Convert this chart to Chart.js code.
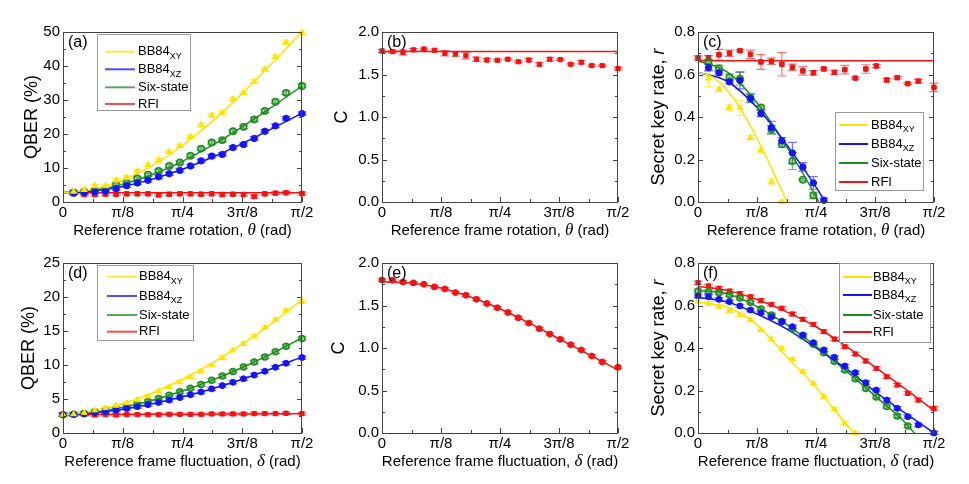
<!DOCTYPE html>
<html>
<head>
<meta charset="utf-8">
<script src="https://cdn.jsdelivr.net/npm/chart.js@4.4.1/dist/chart.umd.min.js"></script>
<style>
  body { margin: 0; background: #fff; width: 969px; height: 484px; position: relative; overflow: hidden; }
  canvas { position: absolute; }
</style>
</head>
<body>
<canvas id="pa" width="320" height="242" style="left:0;top:0"></canvas>
<canvas id="pb" width="318" height="242" style="left:320px;top:0"></canvas>
<canvas id="pc" width="331" height="242" style="left:638px;top:0"></canvas>
<canvas id="pd" width="320" height="242" style="left:0;top:242px"></canvas>
<canvas id="pe" width="318" height="242" style="left:320px;top:242px"></canvas>
<canvas id="pf" width="331" height="242" style="left:638px;top:242px"></canvas>
<script>
/*==================================================================
   Data (angles in degrees, 90 = pi/2)
==================================================================*/
const degAll = [0, 4, 8, 12, 16, 20, 24, 28, 32, 36, 40, 44, 48, 52, 56, 60, 64, 68, 72, 76, 80, 84, 90]
const curveDeg = [0, 11.25, 22.5, 33.75, 45, 56.25, 67.5, 78.75, 90]

const xTickDeg = [0, 22.5, 45, 67.5, 90]
const xTickLabels = ['0', 'π/8', 'π/4', '3π/8', 'π/2']
const qberTicks = [0, 10, 20, 30, 40, 50]
const qberFlucTicks = [0, 5, 10, 15, 20, 25]
const cTicks = [0, 0.5, 1, 1.5, 2]
const cTickLabels = ['0.0', '0.5', '1.0', '1.5', '2.0']
const rateTicks = [0, 0.2, 0.4, 0.6, 0.8]
const rateTickLabels = ['0.0', '0.2', '0.4', '0.6', '0.8']

const legendNames = ['BB84', 'BB84', 'Six-state', 'RFI']
const legendSubs = ['XY', 'XZ', '', '']

// (a) QBER vs rotation, points at 4..90
const qberRotXY = [3.1, 3.6, 4.7, 4.7, 6.4, 7.2, 9.1, 10.9, 12.3, 14.7, 16.5, 19.2, 22.6, 25.5, 26.3, 30.2, 32.1, 35.4, 39.0, 42.7, 46.9, 49.8]
const qberRotXZ = [2.7, 2.8, 3.0, 3.2, 3.9, 4.8, 5.6, 6.4, 7.4, 8.3, 9.3, 10.6, 12.1, 13.5, 14.0, 16.0, 16.9, 18.7, 20.8, 22.4, 24.6, 26.0]
const qberRotSix = [2.8, 3.0, 3.4, 3.6, 5.1, 5.6, 6.9, 8.0, 9.1, 10.6, 11.6, 13.6, 15.7, 17.5, 18.2, 20.8, 22.1, 24.3, 26.8, 29.5, 32.1, 34.1]
const qberRotRFI = [2.4, 2.2, 2.2, 2.3, 2.3, 2.4, 2.4, 2.4, 2.1, 2.3, 2.4, 2.4, 2.3, 2.4, 2.2, 2.3, 2.2, 1.6, 2.4, 2.6, 2.7, 2.5]
const qberRotXYFit = [2.8, 3.71, 6.39, 10.76, 16.62, 23.78, 31.94, 40.8, 50.0]
const qberRotXZFit = [2.8, 3.25, 4.57, 6.73, 9.62, 13.15, 17.19, 21.56, 26.1]
const qberRotSixFit = [2.8, 3.4, 5.18, 8.08, 11.97, 16.71, 22.12, 28.0, 34.1]
const qberRotRFIFit = [2.7, 2.7, 2.7, 2.7, 2.7, 2.7, 2.7, 2.7, 2.7]

// (b) C vs rotation
const cRot = [1.777, 1.77, 1.76, 1.79, 1.80, 1.785, 1.75, 1.74, 1.72, 1.68, 1.67, 1.667, 1.68, 1.65, 1.67, 1.62, 1.68, 1.675, 1.62, 1.645, 1.605, 1.605, 1.57]
const cRotErr = [0.02, 0.015, 0.03, 0.015, 0.01, 0.015, 0.03, 0.025, 0.04, 0.025, 0.02, 0.01, 0.01, 0.01, 0.02, 0.02, 0.02, 0.01, 0.01, 0.02, 0.01, 0.01, 0.015]
const cRotFit = [1.77, 1.77, 1.77, 1.77, 1.77, 1.77, 1.77, 1.77, 1.77]

// (c) key rate vs rotation
const rateRotXY = [0.582, 0.53, 0.445, 0.443, 0.303, 0.244, 0.094, 0.0]
const rateRotXYErr = [0.04, 0.01, 0.015, 0.035, 0.01, 0.01, 0.015, 0.005]
const rateRotXZ = [0.632, 0.608, 0.566, 0.572, 0.487, 0.417, 0.35, 0.288, 0.231, 0.165, 0.09, 0.008]
const rateRotXZErr = [0.015, 0.01, 0.01, 0.04, 0.02, 0.015, 0.03, 0.015, 0.05, 0.02, 0.03, 0.01]
const rateRotSix = [0.66, 0.629, 0.587, 0.58, 0.49, 0.445, 0.341, 0.272, 0.193, 0.105, 0.031]
const rateRotSixErr = [0.01, 0.015, 0.015, 0.03, 0.02, 0.01, 0.02, 0.015, 0.04, 0.005, 0.015]
const rateRotRFI = [0.678, 0.679, 0.693, 0.70, 0.712, 0.695, 0.659, 0.662, 0.648, 0.634, 0.617, 0.608, 0.626, 0.61, 0.623, 0.583, 0.626, 0.64, 0.574, 0.585, 0.557, 0.569, 0.539]
const rateRotRFIErr = [0.01, 0.01, 0.025, 0.015, 0.005, 0.02, 0.035, 0.015, 0.055, 0.015, 0.02, 0.01, 0.005, 0.01, 0.02, 0.005, 0.02, 0.008, 0.008, 0.005, 0.005, 0.008, 0.02]
const rateRotXYFitDeg = [0, 5.625, 11.25, 16.875, 22.5, 28.125, 33.9]
const rateRotXYFit = [0.61, 0.588, 0.525, 0.425, 0.30, 0.157, 0]
const rateRotXZFitDeg = [0, 11.25, 22.5, 33.75, 45, 48.6]
const rateRotXZFit = [0.61, 0.567, 0.445, 0.271, 0.07, 0]
const rateRotSixFitDeg = [0, 11.25, 22.5, 33.75, 45, 46]
const rateRotSixFit = [0.664, 0.611, 0.467, 0.262, 0.025, 0]
const rateRotRFIFit = [0.665, 0.665, 0.665, 0.665, 0.665, 0.665, 0.665, 0.665, 0.665]

// (d) QBER vs fluctuation
const qberFlucXY = [2.7, 2.78, 2.98, 3.34, 3.68, 4.02, 4.41, 4.9, 5.4, 6.13, 6.77, 7.5, 8.24, 9.07, 9.96, 11.08, 12.16, 13.14, 14.22, 15.5, 16.67, 18.04, 19.3]
const qberFlucXZ = [2.7, 2.74, 2.84, 2.98, 3.15, 3.36, 3.6, 3.87, 4.17, 4.49, 4.84, 5.22, 5.62, 6.04, 6.49, 6.97, 7.46, 7.98, 8.52, 9.08, 9.66, 10.26, 11.1]
const qberFlucSix = [2.7, 2.76, 2.88, 3.07, 3.3, 3.58, 3.89, 4.25, 4.65, 5.08, 5.55, 6.05, 6.58, 7.15, 7.74, 8.37, 9.03, 9.72, 10.43, 11.18, 11.95, 12.75, 13.9]
const qberFlucRFI = [2.7, 2.65, 2.7, 2.65, 2.7, 2.65, 2.7, 2.7, 2.7, 2.7, 2.75, 2.75, 2.75, 2.75, 2.8, 2.8, 2.8, 2.8, 2.85, 2.85, 2.85, 2.9, 2.85]
const qberFlucXYFit = [2.7, 3.19, 4.30, 5.89, 7.90, 10.3, 13.07, 16.17, 19.6]
const qberFlucXZFit = [2.7, 2.95, 3.5, 4.3, 5.32, 6.52, 7.91, 9.48, 11.2]
const qberFlucSixFit = [2.7, 3.03, 3.77, 4.83, 6.18, 7.78, 9.63, 11.71, 14.0]
const qberFlucRFIFit = [2.7, 2.7, 2.72, 2.74, 2.76, 2.78, 2.8, 2.82, 2.85]

// (e) C vs fluctuation
const cFluc = [1.80, 1.797, 1.777, 1.766, 1.75, 1.719, 1.695, 1.652, 1.621, 1.574, 1.523, 1.473, 1.418, 1.355, 1.293, 1.227, 1.164, 1.102, 1.039, 0.977, 0.906, 0.836, 0.773]
const cFlucFit = [1.78, 1.765, 1.705, 1.60, 1.462, 1.292, 1.108, 0.925, 0.742]

// (f) key rate vs fluctuation
const rateFlucXY = [0.62, 0.61, 0.595, 0.575, 0.555, 0.532, 0.485, 0.442, 0.398, 0.347, 0.288, 0.234, 0.171, 0.113, 0.046, 0.0]
const rateFlucXZ = [0.645, 0.642, 0.629, 0.618, 0.598, 0.579, 0.566, 0.547, 0.524, 0.50, 0.461, 0.425, 0.391, 0.356, 0.315, 0.284, 0.237, 0.202, 0.155, 0.116, 0.077, 0.038, 0.0]
const rateFlucSix = [0.668, 0.665, 0.66, 0.65, 0.635, 0.615, 0.583, 0.555, 0.525, 0.49, 0.455, 0.418, 0.378, 0.338, 0.297, 0.255, 0.21, 0.17, 0.125, 0.08, 0.033]
const rateFlucRFI = [0.707, 0.692, 0.681, 0.668, 0.656, 0.641, 0.623, 0.605, 0.587, 0.56, 0.535, 0.511, 0.477, 0.442, 0.406, 0.372, 0.339, 0.304, 0.265, 0.226, 0.187, 0.155, 0.116]
const rateFlucXYFitDeg = [0, 11.25, 22.5, 33.75, 45, 56.25, 59.5]
const rateFlucXYFit = [0.615, 0.592, 0.509, 0.36, 0.215, 0.045, 0]
const rateFlucXZFit = [0.638, 0.616, 0.56, 0.49, 0.40, 0.305, 0.195, 0.096, 0]
const rateFlucSixFitDeg = [0, 11.25, 22.5, 33.75, 45, 56.25, 67.5, 78.75, 82.5]
const rateFlucSixFit = [0.67, 0.655, 0.595, 0.51, 0.408, 0.295, 0.175, 0.052, 0]
const rateFlucRFIFit = [0.69, 0.67, 0.628, 0.57, 0.50, 0.41, 0.31, 0.21, 0.105]

/*==================================================================
   Styles
==================================================================*/
const FONT = "'Liberation Sans', Arial, sans-serif"
const YELLOW = [250, 228, 0]
const BLUE = [20, 20, 245]
const GREEN = [30, 140, 30]
const RED = [240, 20, 20]
const legendColors = [YELLOW, BLUE, GREEN, RED]

const rgba = (c, a) => `rgba(${c[0]},${c[1]},${c[2]},${a})`

// measured points with error bars
const pts = (xs, ys, col, style, err, r, hollow) => ({
  data: ys.map((y, i) => ({ x: xs[i], y })),
  showLine: false,
  pointStyle: style,
  pointRadius: r,
  backgroundColor: hollow ? rgba(col, 0.35) : rgba(col, 1),
  borderColor: rgba(col, 1),
  borderWidth: hollow ? 1.5 : 1,
  clip: false,
  order: 0,
  err: err,
  errColor: rgba(col, 0.6)
})

// fitted / theory curve
const fit = (xs, ys, col) => ({
  data: ys.map((y, i) => ({ x: xs[i], y })),
  showLine: true,
  pointRadius: 0,
  borderColor: rgba(col, 1),
  borderWidth: 1.5,
  cubicInterpolationMode: 'monotone',
  order: 1
})

/*==================================================================
   Decoration plugin: error bars, frame, inner ticks, titles, legend
==================================================================*/
const drawParts = (ctx, parts, x, y) => {
  let total = 0
  parts.forEach(p => { ctx.font = p.font; p.w = ctx.measureText(p.t).width; total += p.w })
  let cx = x - total / 2
  ctx.textAlign = 'left'
  ctx.textBaseline = 'middle'
  parts.forEach(p => { ctx.font = p.font; ctx.fillText(p.t, cx, y); cx += p.w })
}

const deco = {
  id: 'deco',
  beforeDatasetsDraw(chart) {
    const ctx = chart.ctx, ys = chart.scales.y
    chart.data.datasets.forEach((ds, i) => {
      if (ds.err === undefined) return
      const meta = chart.getDatasetMeta(i)
      ctx.save()
      ctx.strokeStyle = ds.errColor
      ctx.lineWidth = 1.2
      meta.data.forEach((pt, j) => {
        const e = Array.isArray(ds.err) ? ds.err[j] : ds.err
        const v = ds.data[j].y
        const y1 = ys.getPixelForValue(v + e), y2 = ys.getPixelForValue(v - e)
        ctx.beginPath()
        ctx.moveTo(pt.x, y1); ctx.lineTo(pt.x, y2)
        ctx.moveTo(pt.x - 4.5, y1); ctx.lineTo(pt.x + 4.5, y1)
        ctx.moveTo(pt.x - 4.5, y2); ctx.lineTo(pt.x + 4.5, y2)
        ctx.stroke()
      })
      ctx.restore()
    })
  },
  afterDraw(chart, args, o) {
    const ctx = chart.ctx, ca = chart.chartArea
    const xs = chart.scales.x, ys = chart.scales.y
    ctx.save()
    // frame
    ctx.strokeStyle = '#444'
    ctx.lineWidth = 1
    ctx.strokeRect(Math.round(ca.left) + 0.5, Math.round(ca.top) + 0.5, Math.round(ca.right - ca.left) - 1, Math.round(ca.bottom - ca.top))
    // inner ticks
    ctx.beginPath()
    const xt = xTickDeg
    xt.forEach((v, i) => {
      const px = Math.round(xs.getPixelForValue(v)) + 0.5
      ctx.moveTo(px, ca.bottom); ctx.lineTo(px, ca.bottom - 5)
      if (i < xt.length - 1) {
        const pm = Math.round(xs.getPixelForValue((v + xt[i + 1]) / 2)) + 0.5
        ctx.moveTo(pm, ca.bottom); ctx.lineTo(pm, ca.bottom - 3)
      }
    })
    const yt = o.yTicks
    yt.forEach((v, i) => {
      const py = Math.round(ys.getPixelForValue(v)) + 0.5
      ctx.moveTo(ca.left, py); ctx.lineTo(ca.left + 5, py)
      ctx.moveTo(ca.right, py); ctx.lineTo(ca.right - 5, py)
      if (i < yt.length - 1) {
        const pm = Math.round(ys.getPixelForValue((v + yt[i + 1]) / 2)) + 0.5
        ctx.moveTo(ca.left, pm); ctx.lineTo(ca.left + 3, pm)
        ctx.moveTo(ca.right, pm); ctx.lineTo(ca.right - 3, pm)
      }
    })
    ctx.stroke()

    ctx.fillStyle = '#000'
    // panel label
    ctx.font = `16px ${FONT}`
    ctx.textAlign = 'left'
    ctx.textBaseline = 'top'
    ctx.fillText(o.tag, ca.left + 5, ca.top + 3)

    // x title
    drawParts(ctx, [
      { t: `Reference frame ${o.xWord}, `, font: `15px ${FONT}` },
      { t: o.xSym, font: `italic 17px 'Liberation Serif', serif` },
      { t: ' (rad)', font: `15px ${FONT}` }
    ], (ca.left + ca.right) / 2, ca.bottom + 29)

    // y title
    ctx.save()
    ctx.translate(ca.left - o.yOff, (ca.top + ca.bottom) / 2)
    ctx.rotate(-Math.PI / 2)
    drawParts(ctx, o.yParts, 0, 0)
    ctx.restore()

    // legend
    const lg = o.legend
    if (lg) {
      const x0 = ca.left + lg.x, y0 = ca.top + lg.y
      ctx.fillStyle = '#fff'
      ctx.fillRect(x0, y0, lg.w, lg.h)
      ctx.strokeStyle = '#999'
      ctx.strokeRect(x0 + 0.5, y0 + 0.5, lg.w, lg.h)
      legendNames.forEach((name, i) => {
        const y = y0 + lg.rows[i]
        ctx.strokeStyle = rgba(legendColors[i], lg.alpha)
        ctx.lineWidth = 2
        ctx.beginPath()
        ctx.moveTo(x0 + lg.lx, y); ctx.lineTo(x0 + lg.lx + lg.len, y)
        ctx.stroke()
        ctx.fillStyle = '#000'
        ctx.font = `13px ${FONT}`
        ctx.textAlign = 'left'
        ctx.textBaseline = 'middle'
        ctx.fillText(name, x0 + lg.tx, y)
        if (legendSubs[i]) {
          const w = ctx.measureText(name).width
          ctx.font = `9px ${FONT}`
          ctx.fillText(legendSubs[i], x0 + lg.tx + w, y + 5)
        }
      })
    }
    ctx.restore()
  }
}

/*==================================================================
   Panel builder
==================================================================*/
const makePanel = (id, p) => {
  const box = p.box, area = p.area
  return new Chart(document.getElementById(id), {
    type: 'scatter',
    data: { datasets: p.datasets },
    options: {
      responsive: false,
      animation: false,
      layout: { padding: { left: 0, top: area.t - box.y, right: box.x + box.w - area.r, bottom: 0 } },
      plugins: {
        legend: { display: false },
        tooltip: { enabled: false },
        deco: p.deco
      },
      scales: {
        x: {
          type: 'linear', min: 0, max: 90,
          afterBuildTicks: s => { s.ticks = xTickDeg.map(v => ({ value: v })) },
          afterFit: s => { s.height = box.y + box.h - area.b },
          ticks: { callback: (v, i) => xTickLabels[i], color: '#000', font: { family: FONT, size: 15 }, padding: 2, maxRotation: 0, autoSkip: false },
          grid: { display: false, drawTicks: false },
          border: { display: false }
        },
        y: {
          type: 'linear', min: p.yTicks[0], max: p.yTicks[p.yTicks.length - 1],
          afterBuildTicks: s => { s.ticks = p.yTicks.map(v => ({ value: v })) },
          afterFit: s => { s.width = area.l - box.x },
          ticks: { callback: (v, i) => p.yLabels[i], color: '#000', font: { family: FONT, size: 15 }, padding: 3, autoSkip: false },
          grid: { display: false, drawTicks: false },
          border: { display: false }
        }
      }
    },
    plugins: [deco]
  })
}

const ptsA = degAll.slice(1)
const qberTitle = [{ t: 'QBER (%)', font: `18px ${FONT}` }]
const cTitle = [{ t: 'C', font: `18px ${FONT}` }]
const rateTitle = [{ t: 'Secret key rate, ', font: `18px ${FONT}` }, { t: 'r', font: `italic 18px ${FONT}` }]

makePanel('pa', {
  box: { x: 0, y: 0, w: 320, h: 242 }, area: { l: 63, t: 32, r: 302, b: 202 },
  yTicks: qberTicks, yLabels: qberTicks.map(String),
  datasets: [
    pts(ptsA, qberRotXY, YELLOW, 'triangle', 0.5, 3.5),
    pts(ptsA, qberRotXZ, BLUE, 'circle', 0.5, 3.2),
    pts(ptsA, qberRotSix, GREEN, 'circle', 0.5, 3.2, true),
    pts(ptsA, qberRotRFI, RED, 'rect', 0.4, 3.2),
    fit(curveDeg, qberRotXYFit, YELLOW),
    fit(curveDeg, qberRotXZFit, BLUE),
    fit(curveDeg, qberRotSixFit, GREEN),
    fit(curveDeg, qberRotRFIFit, RED)
  ],
  deco: { tag: '(a)', xWord: 'rotation', xSym: 'θ', yOff: 31, yParts: qberTitle, yTicks: qberTicks,
    legend: { x: 34, y: 2, w: 93, h: 76, rows: [17.7, 35.3, 53.3, 70], lx: 8, len: 30, tx: 41, alpha: 0.75 } }
})

makePanel('pb', {
  box: { x: 320, y: 0, w: 318, h: 242 }, area: { l: 382, t: 32, r: 618, b: 202 },
  yTicks: cTicks, yLabels: cTickLabels,
  datasets: [
    pts(degAll, cRot, RED, 'rect', cRotErr, 3),
    fit(curveDeg, cRotFit, RED)
  ],
  deco: { tag: '(b)', xWord: 'rotation', xSym: 'θ', yOff: 40, yParts: cTitle, yTicks: cTicks }
})

makePanel('pc', {
  box: { x: 638, y: 0, w: 331, h: 242 }, area: { l: 698, t: 32, r: 934, b: 202 },
  yTicks: rateTicks, yLabels: rateTickLabels,
  datasets: [
    pts(degAll.slice(1, 9), rateRotXY, YELLOW, 'triangle', rateRotXYErr, 3.5),
    pts(degAll.slice(1, 13), rateRotXZ, BLUE, 'circle', rateRotXZErr, 3.2),
    pts(degAll.slice(1, 12), rateRotSix, GREEN, 'circle', rateRotSixErr, 3.2, true),
    pts(degAll, rateRotRFI, RED, 'rect', rateRotRFIErr, 3.2),
    fit(rateRotXYFitDeg, rateRotXYFit, YELLOW),
    fit(rateRotXZFitDeg, rateRotXZFit, BLUE),
    fit(rateRotSixFitDeg, rateRotSixFit, GREEN),
    fit(curveDeg, rateRotRFIFit, RED)
  ],
  deco: { tag: '(c)', xWord: 'rotation', xSym: 'θ', yOff: 39, yParts: rateTitle, yTicks: rateTicks,
    legend: { x: 137, y: 80, w: 88, h: 78, rows: [13, 32, 51, 70], lx: 4, len: 29, tx: 36, alpha: 1 } }
})

makePanel('pd', {
  box: { x: 0, y: 242, w: 320, h: 242 }, area: { l: 63, t: 263, r: 302, b: 433 },
  yTicks: qberFlucTicks, yLabels: qberFlucTicks.map(String),
  datasets: [
    pts(degAll, qberFlucXY, YELLOW, 'triangle', 0.25, 3.2),
    pts(degAll, qberFlucXZ, BLUE, 'circle', 0.25, 3),
    pts(degAll, qberFlucSix, GREEN, 'circle', 0.25, 3, true),
    pts(degAll, qberFlucRFI, RED, 'rect', 0.2, 3),
    fit(curveDeg, qberFlucXYFit, YELLOW),
    fit(curveDeg, qberFlucXZFit, BLUE),
    fit(curveDeg, qberFlucSixFit, GREEN),
    fit(curveDeg, qberFlucRFIFit, RED)
  ],
  deco: { tag: '(d)', xWord: 'fluctuation', xSym: 'δ', yOff: 34, yParts: qberTitle, yTicks: qberFlucTicks,
    legend: { x: 34, y: 2, w: 96, h: 75, rows: [11.7, 31, 50, 66.7], lx: 10, len: 30, tx: 42, alpha: 0.75 } }
})

makePanel('pe', {
  box: { x: 320, y: 242, w: 318, h: 242 }, area: { l: 382, t: 263, r: 618, b: 433 },
  yTicks: cTicks, yLabels: cTickLabels,
  datasets: [
    pts(degAll, cFluc, RED, 'circle', 0.015, 3),
    fit(curveDeg, cFlucFit, RED)
  ],
  deco: { tag: '(e)', xWord: 'fluctuation', xSym: 'δ', yOff: 43, yParts: cTitle, yTicks: cTicks }
})

makePanel('pf', {
  box: { x: 638, y: 242, w: 331, h: 242 }, area: { l: 698, t: 263, r: 934, b: 433 },
  yTicks: rateTicks, yLabels: rateTickLabels,
  datasets: [
    pts(degAll.slice(0, 16), rateFlucXY, YELLOW, 'triangle', 0.008, 3.2),
    pts(degAll, rateFlucXZ, BLUE, 'circle', 0.008, 3),
    pts(degAll.slice(0, 21), rateFlucSix, GREEN, 'circle', 0.008, 3, true),
    pts(degAll, rateFlucRFI, RED, 'rect', 0.008, 3),
    fit(rateFlucXYFitDeg, rateFlucXYFit, YELLOW),
    fit(curveDeg, rateFlucXZFit, BLUE),
    fit(rateFlucSixFitDeg, rateFlucSixFit, GREEN),
    fit(curveDeg, rateFlucRFIFit, RED)
  ],
  deco: { tag: '(f)', xWord: 'fluctuation', xSym: 'δ', yOff: 39, yParts: rateTitle, yTicks: rateTicks,
    legend: { x: 141, y: 0, w: 91, h: 79, rows: [14, 32, 52, 69], lx: 4, len: 29, tx: 34, alpha: 1 } }
})
</script>
</body>
</html>
